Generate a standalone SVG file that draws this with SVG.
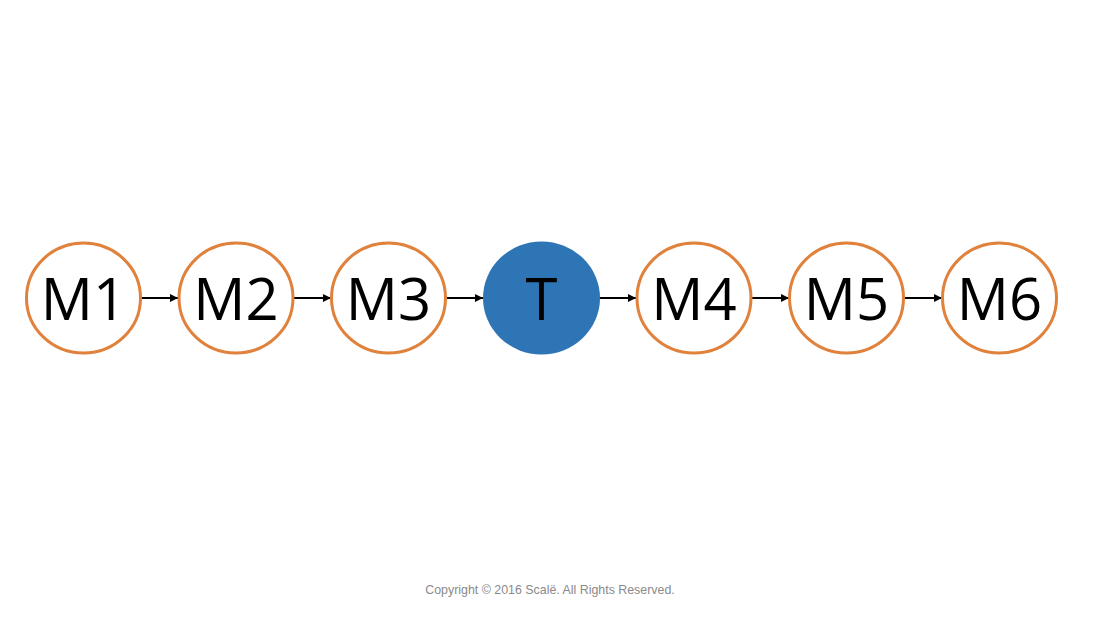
<svg xmlns="http://www.w3.org/2000/svg" width="1100" height="618" viewBox="0 0 1100 618">
<defs>
<style>
.n{fill:#fff;stroke:#E0813C;stroke-width:3}
.t{fill:#2E75B6}
.l{font-family:"Open Sans","Liberation Sans",Arial,sans-serif;font-size:58px;fill:#000;text-anchor:middle}
.e{stroke:#000;stroke-width:2;fill:none;marker-end:url(#a)}
.c{font-family:"Liberation Sans",Arial,sans-serif;font-size:12.4px;fill:#8a8a8a;text-anchor:middle}
</style>
<marker id="a" viewBox="0 0 10 10" refX="10" refY="5" markerWidth="4" markerHeight="4" orient="auto" markerUnits="strokeWidth">
<path d="M0,0L10,5L0,10z" fill="#000"/>
</marker>
</defs>
<rect width="1100" height="618" fill="#fff"/>
<g id="connectors">
<line class="e" x1="141" y1="298" x2="178" y2="298"/>
<line class="e" x1="294" y1="298" x2="331" y2="298"/>
<line class="e" x1="446" y1="298" x2="483" y2="298"/>
<line class="e" x1="599" y1="298" x2="636" y2="298"/>
<line class="e" x1="752" y1="298" x2="789" y2="298"/>
<line class="e" x1="905" y1="298" x2="942" y2="298"/>
</g>
<g id="M1"><ellipse class="n" cx="83.5" cy="298" rx="57" ry="55"/><text class="l" x="83.5" y="320">M1</text></g>
<g id="M2"><ellipse class="n" cx="236" cy="298" rx="57" ry="55"/><text class="l" x="236" y="320">M2</text></g>
<g id="M3"><ellipse class="n" cx="388.5" cy="298" rx="57" ry="55"/><text class="l" x="388.5" y="320">M3</text></g>
<g id="T"><ellipse class="t" cx="541.5" cy="298" rx="58.5" ry="56.5"/><text class="l" x="541.5" y="320">T</text></g>
<g id="M4"><ellipse class="n" cx="694" cy="298" rx="57" ry="55"/><text class="l" x="694" y="320">M4</text></g>
<g id="M5"><ellipse class="n" cx="846.5" cy="298" rx="57" ry="55"/><text class="l" x="846.5" y="320">M5</text></g>
<g id="M6"><ellipse class="n" cx="999.5" cy="298" rx="57" ry="55"/><text class="l" x="999.5" y="320">M6</text></g>
<text class="c" x="550" y="594">Copyright © 2016 Scalë. All Rights Reserved.</text>
</svg>
